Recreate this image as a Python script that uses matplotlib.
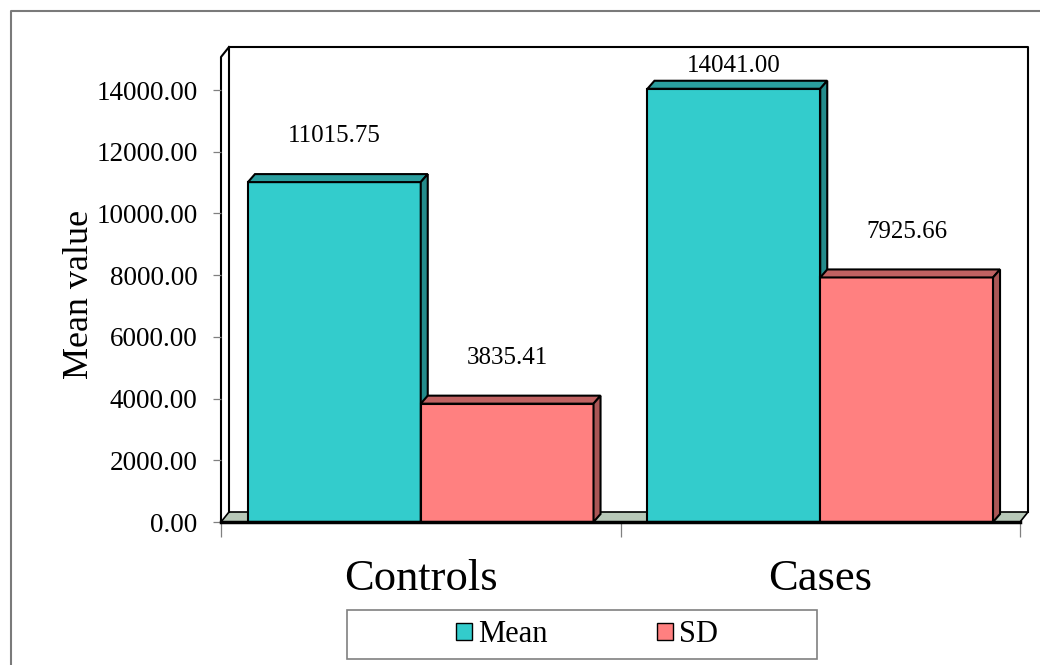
import matplotlib
matplotlib.use("Agg")
import matplotlib.pyplot as plt
import matplotlib.transforms as mtransforms
from matplotlib.patches import Polygon, Rectangle, Patch
from matplotlib.lines import Line2D

# data
groups = ["Controls", "Cases"]
series = ["Mean", "SD"]
mean_vals = [11015.75, 14041.00]
sd_vals = [3835.41, 7925.66]
value_labels = [["11015.75", "14041.00"], ["3835.41", "7925.66"]]
yticks = [0, 2000, 4000, 6000, 8000, 10000, 12000, 14000]

front_cols = ["#33cccc", "#ff8080"]
top_cols = ["#2a9e9e", "#c06262"]
side_cols = ["#248c8c", "#aa5656"]
floor_col = "#b8c8b8"

plt.rcParams['font.family'] = ['Liberation Serif', 'DejaVu Serif']

fig = plt.figure(figsize=(10.4, 6.65), dpi=100)
W, H = 1040, 665
ax = fig.add_axes([221 / W, (H - 522) / H, 799 / W, (522 - 57) / H])
ax.set_xlim(-0.5, 1.5)
ax.set_ylim(0, 15070)
for s in ax.spines.values():
    s.set_visible(False)
ax.patch.set_visible(False)

# depth offsets in pixels
wdx, wdy = 8, 10   # walls
bdx, bdy = 7, 8    # bars
ident = mtransforms.IdentityTransform()
back = ax.transAxes + mtransforms.Affine2D().translate(wdx, wdy)

# floor
floor_pts = [ax.transAxes.transform(p) for p in [(0, 0), (1, 0)]]
fx0, fy0 = floor_pts[0]
fx1, _ = floor_pts[1]
ax.add_patch(Polygon([(fx0, fy0), (fx0 + wdx, fy0 + wdy), (fx1 + wdx, fy0 + wdy), (fx1, fy0)],
                     closed=True, facecolor=floor_col, edgecolor="black", lw=1.2,
                     transform=ident, clip_on=False, zorder=1))
# back wall and left wall
ax.add_line(Line2D([0, 0, 1, 1], [0, 1, 1, 0], color="black", lw=1.5, transform=back, clip_on=False, zorder=1))
tl = ax.transAxes.transform((0, 1))
ax.add_line(Line2D([fx0, fx0, tl[0] + wdx], [fy0, tl[1], tl[1] + wdy], color="black", lw=1.5,
                   transform=ident, clip_on=False, zorder=1))
ax.add_line(Line2D([fx0, fx1], [fy0, fy0], color="black", lw=2.5, transform=ident, clip_on=False, zorder=6))

width = 0.4325
xs = [0, 1]
for si, vals in enumerate([mean_vals, sd_vals]):
    offs = -width if si == 0 else 0
    bars = ax.bar([x + offs for x in xs], vals, width=width, align="edge",
                  color=front_cols[si], edgecolor="black", lw=1.5, zorder=3 + si)
    for b in bars:
        x0, y0 = ax.transData.transform((b.get_x(), 0))
        x1, y1 = ax.transData.transform((b.get_x() + b.get_width(), b.get_height()))
        ax.add_patch(Polygon([(x0, y1), (x1, y1), (x1 + bdx, y1 + bdy), (x0 + bdx, y1 + bdy)],
                             closed=True, facecolor=top_cols[si], edgecolor="black", lw=1.5,
                             transform=ident, clip_on=False, zorder=3 + si))
        ax.add_patch(Polygon([(x1, y1), (x1 + bdx, y1 + bdy), (x1 + bdx, y0 + bdy), (x1, y0)],
                             closed=True, facecolor=side_cols[si], edgecolor="black", lw=1.5,
                             transform=ident, clip_on=False, zorder=3 + si))
    for x, v, t in zip(xs, vals, value_labels[si]):
        ax.text(x + offs + width / 2, min(v + 1480, 14780), t, ha="center", va="center",
                fontsize=18, zorder=7)

# ticks
ax.set_yticks(yticks)
ax.set_yticklabels(["%.2f" % v for v in yticks], fontsize=19.5)
ax.tick_params(axis="y", direction="out", length=5.8, width=0.9, color="#808080", pad=11)
ax.set_xticks(xs)
ax.set_xticklabels(groups, fontsize=32)
ax.tick_params(axis="x", length=0, pad=27)
ax.set_xticks([-0.5, 0.5, 1.5], minor=True)
ax.tick_params(axis="x", which="minor", direction="out", length=10.5, width=0.9, color="#808080")

fig.text(80 / W, 1 - 294 / H, "Mean value", rotation=90, ha="center", va="center", fontsize=26)

# legend box
fig.add_artist(Rectangle((347 / W, 1 - 659 / H), 470 / W, 49 / H, transform=fig.transFigure,
                         facecolor="white", edgecolor="#808080", lw=1.2))
handles = [Patch(facecolor=front_cols[i], edgecolor="black", lw=1.0) for i in range(2)]
fig.legend(handles, series, loc="center", bbox_to_anchor=(587 / W, 1 - 635 / H), ncol=2,
           frameon=False, fontsize=22, handlelength=0.5, handleheight=0.45,
           handletextpad=0.2, columnspacing=3.6)

# outer chart frame
fig.add_artist(Line2D([11 / W, 11 / W, 1], [0, 1 - 11 / H, 1 - 11 / H], color="#7a7a7a", lw=1.5,
                      transform=fig.transFigure))

fig.savefig("out.png", dpi=100)
